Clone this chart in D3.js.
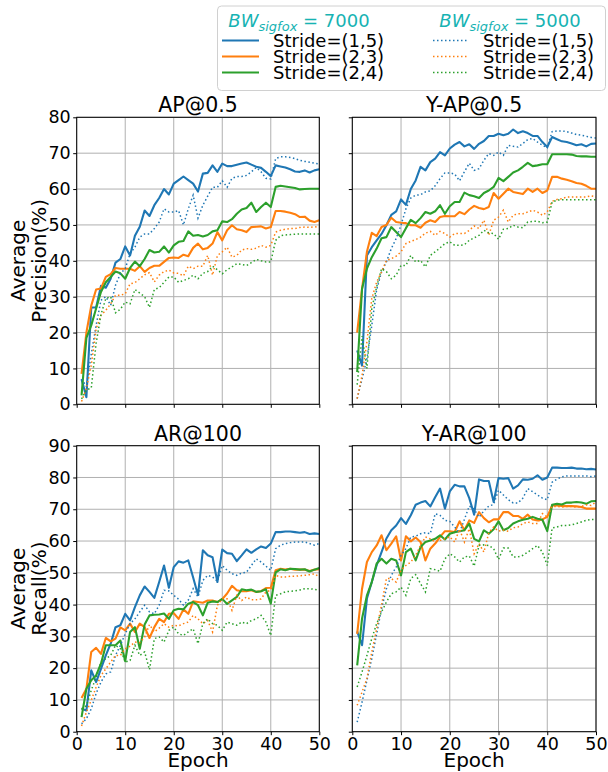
<!DOCTYPE html>
<html><head><meta charset="utf-8">
<script src="https://cdn.jsdelivr.net/npm/d3@7"></script>
<style>
body{margin:0;background:#fff}
svg{display:block}
text{font-family:"DejaVu Sans",sans-serif;fill:#000}
</style>
</head><body><svg id="c" width="608" height="772"></svg>
<script>
const epochs = d3.range(1, 51);
const xTicks = [0, 10, 20, 30, 40, 50];
const yTicksTop = [0, 10, 20, 30, 40, 50, 60, 70, 80];
const yTicksBottom = [0, 10, 20, 30, 40, 50, 60, 70, 80, 90];
const strideLabels = ["Stride=(1,5)", "Stride=(2,3)", "Stride=(2,4)"];
const bwLabels = ["7000", "5000"];
const colors = ["#1f77b4", "#ff7f0e", "#2ca02c"];
const titles = ["AP@0.5", "Y-AP@0.5", "AR@100", "Y-AR@100"];

// AP@0.5
const ap_b7 = [7,2,27,27,33,32.5,35,39.5,40.5,44,41.5,47,49.5,54,52.5,55.5,57.5,60,58.5,61.5,62.5,63.5,62.5,61.5,59.3,64.3,64.5,66.6,64.8,67.1,66.4,66.4,66.8,67.1,67.4,66.8,66.2,65.9,64.8,63.6,66.6,66.3,66,65.5,64.9,64.8,65.2,64.6,65.2,65.5];
const ap_o7 = [8.5,20,27.5,32,32.3,35.5,36.3,38,37.8,37.8,37.8,37.2,38.5,36.9,38,38.6,38.6,39.7,40.8,40.9,40.8,41.7,41.3,43.6,44.8,43.2,43.6,44.8,48,45.7,48.5,49.9,48.8,48.5,48,49.4,49.5,49.6,49,49.4,53.9,53.9,53.7,53.4,53,52.2,52.3,51.2,50.8,51.3];
const ap_g7 = [2.5,18.5,22,26.7,31.3,34,35.5,37,36.5,35,38,39.8,38.5,40.5,43,42.3,42.5,44,42.3,44.3,45.3,45.5,48.2,47,47.2,46.8,47.2,48.2,48.5,51,50.8,51.6,53.1,54.3,54.7,56.2,53.6,55,56.2,55,60.6,60.9,60.7,60.5,60.3,59.9,60,60.1,60.1,60.1];
const ap_b5 = [7,5,14,22,29,30,27.6,33.2,36.4,37.8,42,43.8,46.6,47.5,47.5,49,50.8,54.5,53.6,53.6,54,50,54.5,58.3,51.9,55.5,58,60.5,60.5,62.3,60.5,63,63.5,63.5,63.8,64.8,66,64.8,63,62.8,68.5,69,69,68.8,68.5,68,67.7,67.5,67.2,67];
const ap_o5 = [0.8,4.4,10.9,21,24.8,26.2,28,30.4,30.4,30.8,33.6,33.9,35,36.1,36.7,34.1,36,37,37.4,36.6,36.5,35.8,38.5,37.8,38.5,38.5,41.5,36,41.5,42.5,43.8,41,41.5,43,43.4,43.2,43.5,44.3,43.8,44.3,48,48.5,48.8,49,49,49.3,49.4,49.3,49.5,49.3];
const ap_g5 = [1.5,4,4.5,17,25,29.5,30,25.5,26.5,28.5,28,32,31,30,27,32,32.5,34,35.5,35.5,34,34.5,35,36,35,36.5,37,38.5,37.5,36.4,37.5,38.3,39.2,39,38.7,39.5,40.4,40,39.7,39.7,45.7,47,47.2,47.3,47.4,47.5,47.5,47.5,47.5,47.5];

// Y-AP@0.5
const yap_b7 = [15,10.8,41.5,43.8,45.7,47.5,49.9,52.8,53.8,57.1,55.6,60,62.4,66.2,65.2,67.5,68.5,70.3,69.4,71.3,72.4,73.1,71.9,72.5,71.2,72.6,73.4,74.8,74.8,75.4,75,75.4,76.6,75.6,76.1,75.6,74.8,74.8,73.1,71.7,74.5,73.9,73.3,73.1,72.7,72.2,72.5,71.9,72.6,72.7];
const yap_o7 = [20,32.2,42.5,47.8,46.9,49.4,50,52,50.8,50.6,50.5,49.9,49.9,49.2,50.6,51.3,50.8,52.2,52.5,52.4,52.4,53.6,53,54.3,55.3,54.7,54.4,55,58.9,57.3,58.7,60.1,59.2,58.9,58.6,60.1,59.2,60.1,58.9,59.6,63.4,63.4,62.9,62.6,62.2,61.7,61.5,60.9,60.1,60.1];
const yap_g7 = [9,32.2,37.8,41,43.4,46.3,46.6,49.4,48,46.6,49.1,51.4,50.5,51.9,53.6,53.1,53.8,55.5,53.1,55.2,56.4,56.4,59,58.3,58,57.5,58.9,59.6,60.6,63.1,62.2,63.4,64.6,65.2,66.2,67.3,66.4,66.6,66.9,66.9,69.7,69.7,69.7,69.7,69.6,69.2,69.1,69.1,69,69];
const yap_b5 = [1.6,7,12.7,22,32,36.9,39.7,43.4,46.2,50,54.5,57.5,58.3,58.4,59.2,59.5,60.9,62.9,64.5,64.5,64.2,62.3,64.8,67.2,65.2,65.7,68,69.9,69.4,70.3,69.4,72.2,71.9,71.7,72.7,73.8,74.1,73.1,72.2,71.5,76,76.2,76.2,76,75.6,75.2,75,74.7,74.4,74.2];
const yap_o5 = [1.6,8,17.4,29.5,34.1,36.9,40.1,40.6,41.3,42.5,44.8,45.4,45.9,46.6,47.7,48.2,47.1,48.2,47.6,46.6,47.6,47.6,47.6,48.5,49.7,49,51.3,47.1,51.3,52.2,54.1,50.8,52.7,53.1,53.1,53.6,54.1,53.6,52.7,53.6,56.6,57.1,57.3,57.8,57.8,57.8,57.8,57.8,58.1,57.8];
const yap_g5 = [5.5,19,10,26.7,32.7,37.8,37,35,36,38.7,38.7,41.5,39.7,40.1,38.3,41.5,42.5,43.6,44.8,45.3,44.3,44.3,44.5,45.7,46.4,47.1,48.5,47.8,47.6,46,48.8,49,49.9,49.4,49.2,50.8,51,51,50.6,50.8,56.4,56.9,57,57,57,57,57,57,57,57];

// AR@100
const ar_b7 = [7.2,6.7,19.3,15.6,19.8,24,27.7,32.9,33.5,37.1,35,39.2,42.9,45.7,44,42.1,47.1,52.3,45.3,51.8,53.6,53.2,53.9,48.5,43,57.1,55.5,54.9,47.1,57.3,56.2,56,53.7,55.5,57.4,56.3,57.4,58.3,57.8,59.2,62.8,62.8,63,63,62.8,62.6,62.8,62.2,62.4,62.2];
const ar_o7 = [10.6,13.5,25.1,26.4,24.5,29.5,28.4,29.3,32.8,31.9,34,31.4,34,32.9,29.5,32.9,35.5,34.5,37.1,37.3,35.5,38.5,37.1,41,40.8,40.6,41.3,41.3,40.8,41.7,43.5,45.9,44.5,44.2,44.2,44.5,44,44.2,45.2,45.3,50.8,51.3,51,51.3,51,51,51,50.6,51,51.1];
const ar_g7 = [4.6,13.5,16.2,17.7,21.4,27.2,27.2,27.2,28.7,22.2,31.4,32.9,26.1,33.7,36.6,36.8,36.9,37.2,35.5,38.2,38.7,38.5,40.3,40.8,39.8,36.6,40.6,41,40.8,41.8,40.2,41.3,42.4,44.8,44.5,44.7,44,44.2,44.8,40.3,50.1,51.1,50.8,51.3,51.2,51,51.1,50.4,51,51.5];
const ar_b5 = [2.5,4.1,7.2,12,15.6,18.2,18.8,24,27.2,30.8,34,35.5,37.7,39.8,37.7,37.1,39.8,44.5,44.3,42.9,41.7,39.8,41.4,45,42.4,47.6,49.2,48.7,47.3,52.3,50.8,49.7,49.2,49.9,50.2,52.3,54.4,53.4,52.1,50.8,57.6,58.7,59.2,59.5,59.7,59.7,59.7,59.2,58.7,59.2];
const ar_o5 = [1.8,6.2,9.9,14,17.7,19.8,21.9,24,24,26.1,26.9,28.2,28,29.8,33.7,31.4,32.6,34,32.9,33.5,33.3,34,34.5,36.6,35.5,34,35,31.4,39.8,41.8,41.8,38.2,42.9,41.3,42.4,41.5,41.5,41.8,44,44.5,49.2,48.7,48.7,48.9,48.9,49.1,49.2,49.4,49.7,48.7];
const ar_g5 = [7.2,8.2,13,17.2,21.9,23,24,27.2,26.1,21.9,22.4,27.2,24,25.1,19.5,29.3,29.8,28.2,31.9,32.9,30.8,30.3,31.4,32.4,27.7,34,35.5,34,33.5,31.9,34.5,34,33.5,34.5,34,35,35.5,36.6,34.5,30.3,42.9,43.4,44,44.2,44.3,44.6,45,45,44.8,44.5];

// Y-AR@100
const yar_b7 = [31.6,27.2,41.9,47.1,52.4,56.5,60.8,63.4,64.9,67.2,65.4,68.1,71.4,72.1,72.6,70.9,73.8,76.5,70.2,75.6,77.7,77.2,77.2,73.5,68.3,79.4,78.9,78.9,72.3,79.8,79.6,79.8,76.5,77.5,79.4,79.3,79.6,80.7,79.3,80,83.1,83.1,83,83,83.1,82.8,82.8,82.6,82.7,82.5];
const yar_o7 = [30.8,45,53.4,56.5,58.6,61.8,57.1,59.2,61.5,53.9,61.5,59.9,61.1,59.7,53.9,57.6,59.2,61.3,63.1,63.1,62.8,66.2,63.4,66.5,65.7,69.1,67.2,65.9,66.8,66.8,69.1,69.1,67.9,67.9,67,68.3,66.8,66.5,66.8,67.6,71.2,71.2,71,71,71,70.9,70.7,70.2,70.2,70.2];
const yar_g7 = [20.9,35.6,42.9,47.1,52.9,54.4,52.9,54.4,53.9,49.2,56.5,57.6,53.9,58.1,59.7,60.2,60.7,61.8,60.5,62.3,62.8,63.1,63.4,65.5,60.7,59.9,63.4,62.3,63.7,66.2,63.4,64.1,65.5,66.2,66.7,67,67.6,67,66.7,63.1,71.4,71.7,71.5,72.1,72.1,72.3,72.1,71.7,72.5,72.6];
const yar_b5 = [3,9.3,16.2,23,30.8,38.7,45,49.2,51.8,55.5,57.6,61.3,61.5,62.3,62.6,62.3,68.6,68.1,66.5,66.2,64.4,62.6,66.8,71,70,67.5,69.5,71,71.5,76,74.5,73,72,72,73.5,76.5,75.5,74.5,73.5,73,78.5,79.5,80.2,80.5,80.5,80.5,80.5,80.5,80.3,80.5];
const yar_o5 = [8.3,12.5,16.7,25.1,32.4,39.8,48.2,48.2,47.1,50.8,52.3,53.4,55.5,58.6,61.3,60.7,59.7,60.2,60.7,61.3,59.7,63.7,59.7,63.9,56,59.2,56.5,62.6,64.4,63.1,63.4,63.1,64.2,64.4,65.5,66,65.5,65.5,68.6,67.6,70.9,70.9,70.7,70.9,70.9,70.7,70.9,71.4,71.2,72.3];
const yar_g5 = [14.1,18.8,24,29.3,34,37.7,40.8,43.4,44,45.5,42.9,48.2,49.4,46.6,44,51.3,51,50.5,54.4,56,55,53.4,55,55.3,52.1,58.6,58.8,58.6,57.6,54.2,57.8,57.8,55,55,55.5,56.5,57.6,58.6,56.5,52.3,64.1,64.4,64.9,64.9,65.1,65.5,66,66.5,66.8,66.7];

const panels = [
  {title: titles[0], x0: 76.7, x1: 319.3, y0: 117.3, y1: 404.3, ymax: 80, yt: yTicksTop, s7: [ap_b7, ap_o7, ap_g7], s5: [ap_b5, ap_o5, ap_g5], ylab: ["Average", "Precision(%)"], showY: true, showX: false},
  {title: titles[1], x0: 352.3, x1: 596, y0: 117.3, y1: 404.3, ymax: 80, yt: yTicksTop, s7: [yap_b7, yap_o7, yap_g7], s5: [yap_b5, yap_o5, yap_g5], ylab: null, showY: false, showX: false},
  {title: titles[2], x0: 76.7, x1: 319.3, y0: 445.7, y1: 731.7, ymax: 90, yt: yTicksBottom, s7: [ar_b7, ar_o7, ar_g7], s5: [ar_b5, ar_o5, ar_g5], ylab: ["Average", "Recall(%)"], showY: true, showX: true},
  {title: titles[3], x0: 352.3, x1: 596, y0: 445.7, y1: 731.7, ymax: 90, yt: yTicksBottom, s7: [yar_b7, yar_o7, yar_g7], s5: [yar_b5, yar_o5, yar_g5], ylab: null, showY: false, showX: true}
];

const svg = d3.select("#c");
const defs = svg.append("defs");
const tickFont = 17.5, titleFont = 20.5, labelFont = 20, legendFont = 18;

panels.forEach((p, i) => {
  const x = d3.scaleLinear().domain([0, 50]).range([p.x0, p.x1]);
  const y = d3.scaleLinear().domain([0, p.ymax]).range([p.y1, p.y0]);
  const g = svg.append("g");
  defs.append("clipPath").attr("id", "clip" + i).append("rect")
    .attr("x", p.x0).attr("y", p.y0).attr("width", p.x1 - p.x0).attr("height", p.y1 - p.y0);

  // grid
  g.append("g").selectAll("line").data(xTicks).join("line")
    .attr("x1", d => x(d)).attr("x2", d => x(d)).attr("y1", p.y0).attr("y2", p.y1)
    .attr("stroke", "#b0b0b0").attr("stroke-width", 1);
  g.append("g").selectAll("line").data(p.yt).join("line")
    .attr("y1", d => y(d)).attr("y2", d => y(d)).attr("x1", p.x0).attr("x2", p.x1)
    .attr("stroke", "#b0b0b0").attr("stroke-width", 1);

  // axes via d3
  const xAxis = d3.axisBottom(x).tickValues(xTicks).tickSize(3.5).tickPadding(2.5)
    .tickFormat(p.showX ? d3.format("d") : () => "");
  const yAxis = d3.axisLeft(y).tickValues(p.yt).tickSize(3.5).tickPadding(2.5)
    .tickFormat(p.showY ? d3.format("d") : () => "");
  const gx = g.append("g").attr("transform", `translate(0,${p.y1})`).call(xAxis);
  const gy = g.append("g").attr("transform", `translate(${p.x0},0)`).call(yAxis);
  [gx, gy].forEach(ax => {
    ax.select(".domain").remove();
    ax.selectAll(".tick line").attr("stroke", "#000").attr("stroke-width", 1);
    ax.selectAll(".tick text").attr("font-size", tickFont).attr("font-family", "DejaVu Sans").attr("fill", "#000");
  });

  // lines
  const line = d3.line().x((d, k) => x(epochs[k])).y(d => y(d));
  const lg = g.append("g").attr("clip-path", `url(#clip${i})`);
  p.s7.forEach((s, k) => {
    lg.append("path").datum(s).attr("d", line).attr("fill", "none")
      .attr("stroke", colors[k]).attr("stroke-width", 2.1).attr("stroke-linejoin", "round");
  });
  p.s5.forEach((s, k) => {
    lg.append("path").datum(s).attr("d", line).attr("fill", "none")
      .attr("stroke", colors[k]).attr("stroke-width", 1.5).attr("stroke-dasharray", "1.5,2.5");
  });

  // frame
  g.append("rect").attr("x", p.x0).attr("y", p.y0).attr("width", p.x1 - p.x0).attr("height", p.y1 - p.y0)
    .attr("fill", "none").attr("stroke", "#000").attr("stroke-width", 1);

  // title
  g.append("text").attr("x", (p.x0 + p.x1) / 2).attr("y", p.y0 - 5)
    .attr("text-anchor", "middle").attr("font-size", titleFont).text(p.title);

  // y label
  if (p.ylab) {
    const cy = (p.y0 + p.y1) / 2;
    g.append("text").attr("transform", `translate(25,${cy}) rotate(-90)`)
      .attr("text-anchor", "middle").attr("font-size", labelFont).text(p.ylab[0]);
    g.append("text").attr("transform", `translate(46,${cy}) rotate(-90)`)
      .attr("text-anchor", "middle").attr("font-size", labelFont).text(p.ylab[1]);
  }
  if (p.showX) {
    g.append("text").attr("x", (p.x0 + p.x1) / 2).attr("y", 767)
      .attr("text-anchor", "middle").attr("font-size", labelFont).text("Epoch");
  }
});

// legend
const lg = svg.append("g");
lg.append("rect").attr("x", 217.5).attr("y", 6).attr("width", 388).attr("height", 84.5)
  .attr("rx", 4).attr("fill", "#fff").attr("fill-opacity", 0.8).attr("stroke", "#d0d0d0").attr("stroke-width", 1);
const cols = [{hx: 299, lx0: 222, lx1: 259, tx: 273, dash: null, w: 2.1}, {hx: 510, lx0: 433, lx1: 468, tx: 483, dash: "1.5,2.5", w: 1.5}];
cols.forEach((c, ci) => {
  const t = lg.append("text").attr("x", c.hx).attr("y", 27).attr("text-anchor", "middle")
    .attr("font-size", legendFont).style("fill", "#17b3b3");
  t.append("tspan").attr("font-style", "italic").text("BW");
  t.append("tspan").attr("font-style", "italic").attr("font-size", 13).attr("dy", 4).text("sigfox");
  t.append("tspan").attr("dy", -4).text(" = " + bwLabels[ci]);
  strideLabels.forEach((s, k) => {
    const yy = 40.5 + 16 * k;
    lg.append("line").attr("x1", c.lx0).attr("x2", c.lx1).attr("y1", yy).attr("y2", yy)
      .attr("stroke", colors[k]).attr("stroke-width", c.w).attr("stroke-dasharray", c.dash);
    lg.append("text").attr("x", c.tx).attr("y", yy + 6.5).attr("font-size", legendFont).text(s);
  });
});
</script>
</body></html>
